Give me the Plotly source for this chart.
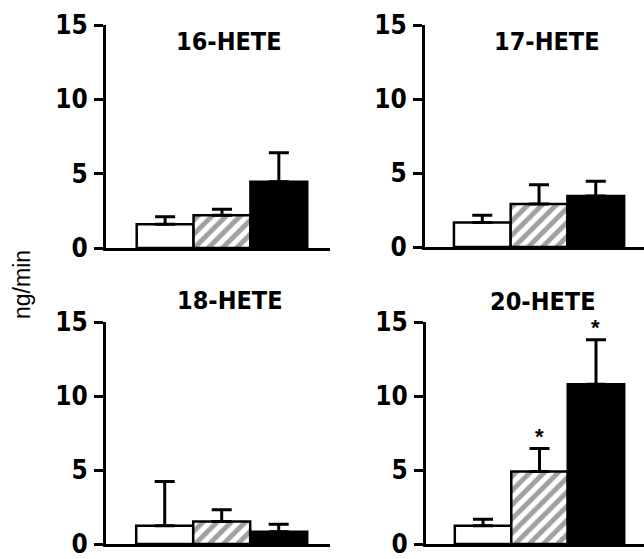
import plotly.graph_objects as go

groups = ["Control", "Group 2", "Group 3"]
panel_titles = ["16-HETE", "17-HETE", "18-HETE", "20-HETE"]
values_16 = [1.6, 2.2, 4.45]
errors_16 = [0.5, 0.4, 1.95]
values_17 = [1.65, 2.9, 3.45]
errors_17 = [0.5, 1.3, 1.0]
values_18 = [1.23, 1.52, 0.83]
errors_18 = [3.0, 0.8, 0.5]
values_20 = [1.23, 4.9, 10.8]
errors_20 = [0.45, 1.55, 3.0]
significant_20 = [False, True, True]
y_ticks = [0, 5, 10, 15]

W, H = 644, 559
FONT = "DejaVu Sans Condensed, Liberation Sans Narrow, sans-serif"

panels = [
    (values_16, errors_16, None),
    (values_17, errors_17, None),
    (values_18, errors_18, None),
    (values_20, errors_20, significant_20),
]

# screen-pixel layout: (x_left, x_right, y_top(15), y_bottom(0))
px = [
    (106, 330, 25, 248),
    (425, 644, 25, 247),
    (106, 330, 322, 544),
    (426, 644, 322, 544),
]
xranges = [(-1.04, 2.9), (-1.01, 2.85), (-1.03, 2.9), (-1.01, 2.85)]
title_pos = [(229, 41), (547, 41), (230, 300), (543, 301)]


def fx(x):
    return min(max(x / W, 0), 1)


def fy(y):
    return min(max(1 - y / H, 0), 1)


fig = go.Figure()
xpos = [0, 1, 2]
fills = ["white", "white", "black"]
patterns = ["", "/", ""]

for i, (vals, errs, sig) in enumerate(panels):
    ax = "" if i == 0 else str(i + 1)
    fig.add_trace(go.Bar(
        x=xpos, y=vals, width=1.0,
        xaxis="x" + ax, yaxis="y" + ax,
        marker=dict(
            color=fills,
            line=dict(color="black", width=2.5),
            pattern=dict(shape=patterns, fgcolor="black", bgcolor="white",
                         size=10, solidity=0.5),
        ),
        error_y=dict(type="data", array=errs, arrayminus=[0, 0, 0],
                     symmetric=False, color="black", thickness=3, width=10),
        showlegend=False,
        hoverinfo="skip",
    ))
    x0, x1, yt, yb = px[i]
    fig.layout["xaxis" + ax] = dict(
        domain=[fx(x0), fx(x1)], range=list(xranges[i]),
        showline=True, linecolor="black", linewidth=3,
        showticklabels=False, ticks="", showgrid=False, zeroline=False,
        anchor="y" + ax, fixedrange=True, automargin=False,
    )
    fig.layout["yaxis" + ax] = dict(
        domain=[fy(yb), fy(yt)], range=[0, 15],
        tickvals=y_ticks, ticks="outside", ticklen=9, tickwidth=3,
        tickcolor="black", showline=True, linecolor="black", linewidth=3,
        showgrid=False, zeroline=False, anchor="x" + ax,
        tickfont=dict(family=FONT, size=26, color="black", weight="bold"),
        ticklabelstandoff=1, fixedrange=True, automargin=False,
        ticklabeloverflow="allow",
    )
    tx, ty = title_pos[i]
    fig.add_annotation(
        text=panel_titles[i], x=fx(tx), y=fy(ty), xref="paper", yref="paper",
        showarrow=False, xanchor="center", yanchor="middle",
        font=dict(family=FONT, size=25, color="black", weight="bold"),
    )
    if sig:
        for j, s in enumerate(sig):
            if s:
                fig.add_annotation(
                    text="*", x=xpos[j], y=vals[j] + errs[j],
                    xref="x" + ax, yref="y" + ax, showarrow=False,
                    yanchor="bottom", yshift=-2,
                    font=dict(family="Liberation Sans", size=22, color="black", weight="bold"),
                )

fig.add_annotation(
    text="ng/min", x=fx(22), y=fy(285), xref="paper", yref="paper",
    showarrow=False, textangle=-90, xanchor="center", yanchor="middle",
    font=dict(family="Liberation Sans, Arial, sans-serif", size=23, color="black"),
)

fig.update_layout(
    width=W, height=H, margin=dict(l=0, r=0, t=0, b=0, autoexpand=False),
    plot_bgcolor="white", paper_bgcolor="white", bargap=0,
)

fig.write_html(
    "out.html",
    config={"displayModeBar": False, "staticPlot": True},
    post_script="document.body.style.margin='0';document.body.style.overflow='hidden';",
)
